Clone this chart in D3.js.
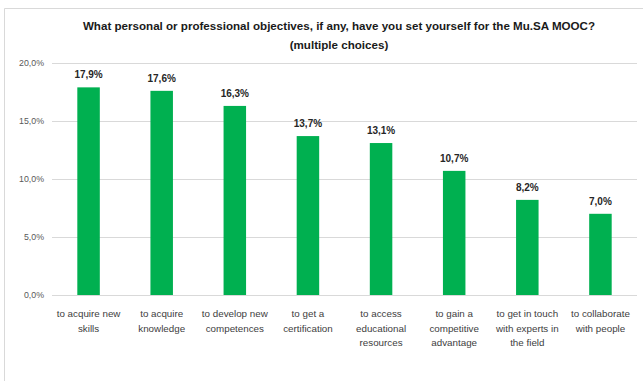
<!DOCTYPE html>
<html><head><meta charset="utf-8">
<script src="https://cdn.jsdelivr.net/npm/d3@7"></script>
<style>
html,body{margin:0;padding:0;background:#fff;}
text{font-family:"Liberation Sans",Arial,sans-serif;}
</style></head>
<body><svg id="c" width="643" height="381"></svg>
<script>
const categories = [
  ["to acquire new","skills"],
  ["to acquire","knowledge"],
  ["to develop new","competences"],
  ["to get a","certification"],
  ["to access","educational","resources"],
  ["to gain a","competitive","advantage"],
  ["to get in touch","with experts in","the field"],
  ["to collaborate","with people"]
];
const values = [17.9, 17.6, 16.3, 13.7, 13.1, 10.7, 8.2, 7.0];
const yTicks = [0, 5, 10, 15, 20];
const titleLines = ["What personal or professional objectives, if any, have you set yourself for the Mu.SA MOOC?","(multiple choices)"];

const svg = d3.select("#c");
const fmt = v => v.toFixed(1).replace(".", ",") + "%";

// border
svg.append("path").attr("d","M4.5,381 V8.5 H643").attr("fill","none").attr("stroke","#d9d9d9").attr("stroke-width",1);

const x = d3.scaleBand().domain(d3.range(categories.length)).range([52, 637]).paddingInner(0.7).paddingOuter(0.35);
const y = d3.scaleLinear().domain([0, 20]).range([295, 63]);

// gridlines
svg.append("g").selectAll("line").data(yTicks).join("line")
  .attr("x1", 52).attr("x2", 637)
  .attr("y1", d => Math.round(y(d)) + 0.5).attr("y2", d => Math.round(y(d)) + 0.5)
  .attr("stroke", "#d9d9d9").attr("stroke-width", 1);

// y axis labels
const yAxis = d3.axisLeft(y).tickValues(yTicks).tickFormat(fmt).tickSize(0).tickPadding(0);
const ga = svg.append("g").attr("transform","translate(44,0)").call(yAxis);
ga.select(".domain").remove();
ga.selectAll("text").attr("fill","#595959").style("font-size","8.8px").style("font-family","\"Liberation Sans\",sans-serif");

// bars
const bw = 22.5;
svg.append("g").selectAll("rect").data(values).join("rect")
  .attr("x", (d,i) => x(i) + x.bandwidth()/2 - bw/2)
  .attr("width", bw)
  .attr("y", d => y(d))
  .attr("height", d => y(0) - y(d))
  .attr("fill", "#00b050");

// value labels
svg.append("g").selectAll("text").data(values).join("text")
  .attr("x", (d,i) => x(i) + x.bandwidth()/2)
  .attr("y", d => y(d) - 9)
  .attr("text-anchor","middle")
  .attr("fill","#262626")
  .style("font-size","10px").style("font-weight","bold")
  .text(fmt);

// category labels
const cg = svg.append("g");
categories.forEach((lines, i) => {
  const t = cg.append("text")
    .attr("x", x(i) + x.bandwidth()/2)
    .attr("y", 317)
    .attr("text-anchor","middle")
    .attr("fill","#404040")
    .style("font-size","9.8px");
  lines.forEach((l, j) => {
    t.append("tspan").attr("x", x(i) + x.bandwidth()/2).attr("dy", j === 0 ? 0 : 14.5).text(l);
  });
});

// title
svg.append("g").selectAll("text").data(titleLines).join("text")
  .attr("x", 339)
  .attr("y", (d,i) => 30 + i*19)
  .attr("text-anchor","middle")
  .attr("fill","#1a1a1a")
  .style("font-size","11.6px").style("font-weight","bold")
  .text(d => d);
</script></body></html>
